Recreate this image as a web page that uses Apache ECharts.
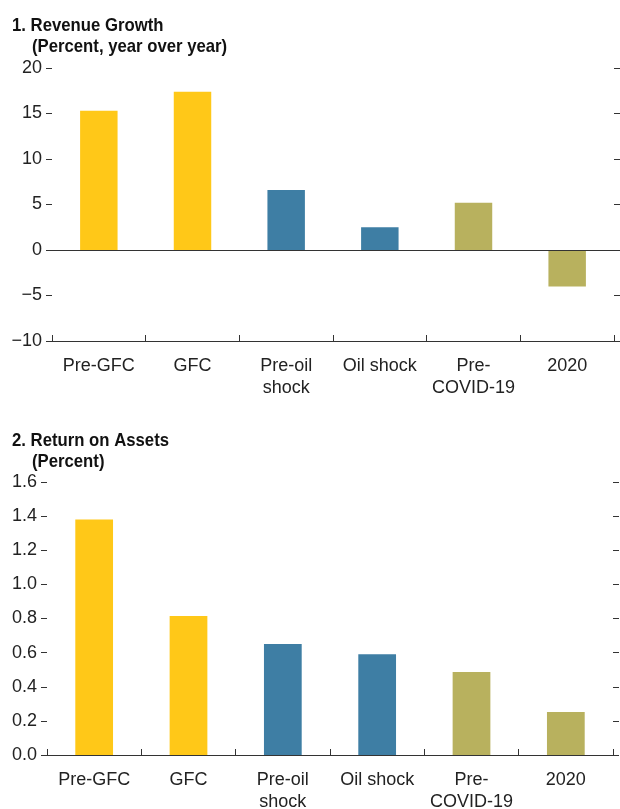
<!DOCTYPE html>
<html><head><meta charset="utf-8">
<script src="https://cdn.jsdelivr.net/npm/echarts@6/dist/echarts.min.js"></script>
<style>html,body{margin:0;padding:0;background:#fff}#c{width:620px;height:809px}</style>
</head><body><div id="c"></div>
<script>
const categories = ['Pre-GFC', 'GFC', 'Pre-oil\nshock', 'Oil shock', 'Pre-\nCOVID-19', '2020'];
const revenueGrowth = [15.3, 17.4, 6.6, 2.5, 5.2, -4.0];
const returnOnAssets = [1.38, 0.815, 0.65, 0.59, 0.487, 0.252];
const barColors = ['#FFC818', '#FFC818', '#3E7EA4', '#3E7EA4', '#B8B15E', '#B8B15E'];
const title1 = '1. Revenue Growth';
const sub1 = '(Percent, year over year)';
const title2 = '2. Return on Assets';
const sub2 = '(Percent)';

const FONT = '"Liberation Sans Narrow", "Arial Narrow", "Liberation Sans", sans-serif';
const chart = echarts.init(document.getElementById('c'));

function titleText(text, x, y){
  return {type:'text', x: x, y: y, scaleX: 0.88, silent:true,
    style:{text: text, x:0, y:0, fill:'#111', font:'bold 19px ' + FONT,
      textAlign:'left', textVerticalAlign:'middle'}};
}
function xAxis(gi, margin){
  return {type:'category', gridIndex: gi, data: categories,
    axisLine:{show:true, onZero:false, lineStyle:{color:'#333', width:1}},
    axisTick:{show:true, inside:true, length:6, alignWithLabel:false, lineStyle:{color:'#333'}},
    axisLabel:{fontFamily: FONT, fontSize: 18, color:'#222', margin: margin, lineHeight: 22, interval:0}};
}
function yAxis(gi, min, max, interval, pos, showLabel, fmt){
  return {type:'value', gridIndex: gi, min, max, interval, position: pos,
    axisLine:{show:false}, splitLine:{show:false},
    axisTick:{show:true, length:6, lineStyle:{color:'#333'}},
    axisLabel:{show: showLabel, fontFamily: FONT, fontSize: 18, color:'#222', margin: 10,
      formatter: fmt}};
}
const fmt1 = v => v < 0 ? '\u2212' + Math.abs(v) : String(v);
const fmt2 = v => v.toFixed(1);

chart.setOption({
  animation:false,
  graphic:[
    titleText(title1, 12, 26),
    titleText(sub1, 32, 47),
    titleText(title2, 12, 441),
    titleText(sub2, 32, 462)
  ],
  grid:[
    {left:52, width:562, top:68, height:273, outerBoundsMode:'none', containLabel:false},
    {left:47, width:566, top:482, height:273, outerBoundsMode:'none', containLabel:false}
  ],
  xAxis:[xAxis(0, 14), xAxis(1, 14)],
  yAxis:[
    yAxis(0, -10, 20, 5, 'left', true, fmt1),
    yAxis(0, -10, 20, 5, 'right', false, fmt1),
    yAxis(1, 0, 1.6, 0.2, 'left', true, fmt2),
    yAxis(1, 0, 1.6, 0.2, 'right', false, fmt2)
  ],
  series:[
    {type:'bar', xAxisIndex:0, yAxisIndex:0, barWidth:'40%',
      data: revenueGrowth.map((v,i)=>({value:v, itemStyle:{color:barColors[i]}})),
      markLine:{silent:true, symbol:['none','none'], label:{show:false},
        lineStyle:{color:'#333', width:1, type:'solid'}, data:[{yAxis:0}]}},
    {type:'bar', xAxisIndex:1, yAxisIndex:2, barWidth:'40%',
      data: returnOnAssets.map((v,i)=>({value:v, itemStyle:{color:barColors[i]}}))}
  ]
});
</script></body></html>
